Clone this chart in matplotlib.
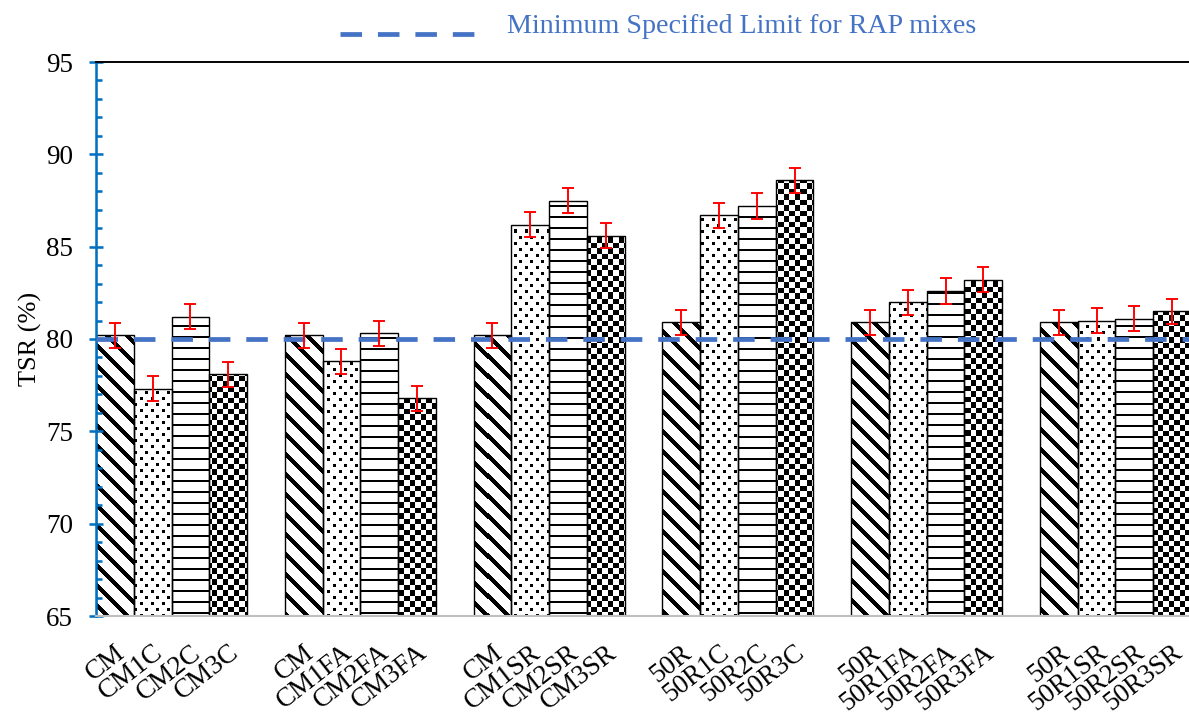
import numpy as np
import matplotlib
matplotlib.use("Agg")
import matplotlib.pyplot as plt
from matplotlib.lines import Line2D
from matplotlib.transforms import ScaledTranslation, blended_transform_factory

# ---------------- data ----------------
group_labels = [
    ["CM", "CM1C", "CM2C", "CM3C"],
    ["CM", "CM1FA", "CM2FA", "CM3FA"],
    ["CM", "CM1SR", "CM2SR", "CM3SR"],
    ["50R", "50R1C", "50R2C", "50R3C"],
    ["50R", "50R1FA", "50R2FA", "50R3FA"],
    ["50R", "50R1SR", "50R2SR", "50R3SR"],
]
control_tsr = [80.2, 80.2, 80.2, 80.9, 80.9, 80.9]
dose1_tsr = [77.3, 78.8, 86.2, 86.7, 82.0, 81.0]
dose2_tsr = [81.2, 80.3, 87.5, 87.2, 82.6, 81.1]
dose3_tsr = [78.1, 76.8, 85.6, 88.6, 83.2, 81.5]
control_err = [0.68, 0.68, 0.68, 0.68, 0.68, 0.68]
dose1_err = [0.68, 0.68, 0.68, 0.68, 0.68, 0.68]
dose2_err = [0.68, 0.68, 0.68, 0.68, 0.68, 0.68]
dose3_err = [0.68, 0.68, 0.68, 0.68, 0.68, 0.68]
limit_value = 80
limit_label = "Minimum Specified Limit for RAP mixes"
y_label = "TSR (%)"
y_min, y_max = 65, 95

series_vals = [control_tsr, dose1_tsr, dose2_tsr, dose3_tsr]
series_errs = [control_err, dose1_err, dose2_err, dose3_err]

# ---------------- figure ----------------
DPI = 126
W, H = 1189, 715
plt.rcParams["font.family"] = ["Liberation Serif", "DejaVu Serif"]
plt.rcParams["lines.scale_dashes"] = False
fig = plt.figure(figsize=(W / DPI, H / DPI), dpi=DPI)
ax_left, ax_right, ax_top, ax_bottom = 96, 1191, 62, 616
ax = fig.add_axes([ax_left / W, 1 - ax_bottom / H,
                   (ax_right - ax_left) / W, (ax_bottom - ax_top) / H])

n_groups = len(group_labels)
slots_per_group = 5
n_series = len(series_vals)
x_max = n_groups * slots_per_group - 1

# ---------------- fill patterns (pixel textures) ----------------
nr = ax_bottom - ax_top
nc = ax_right - ax_left
ii, jj = np.indices((nr, nc))
pat_diag = ((ii - jj) % 20 >= 6).astype(float)
r12, c11 = ii % 12, jj % 11
pat_dots = 1.0 - (((r12 < 3) & (c11 < 3)) | ((r12 >= 6) & (r12 < 9) & (c11 >= 5) & (c11 < 8))).astype(float)
pat_hlines = ((ii % 11) >= 2).astype(float)
pat_checker = 1.0 - ((np.floor(ii / 5.5) + np.floor(jj / 5.5)) % 2)
patterns = [pat_diag, pat_dots, pat_hlines, pat_checker]

bar_sets = []
for k in range(n_series):
    xs = [g * slots_per_group + k + 0.5 for g in range(n_groups)]
    bars = ax.bar(xs, series_vals[k], width=1.0, facecolor="none",
                  edgecolor="black", linewidth=0.8, zorder=2)
    for b in bars:
        im = ax.imshow(patterns[k], cmap="gray", vmin=0, vmax=1, origin="upper",
                       extent=(0, x_max, y_min, y_max), aspect="auto",
                       interpolation="nearest", zorder=1.5)
        im.set_clip_path(b)
    bar_sets.append(xs)

# limit line
line_kw = dict(color="#4472C4", linewidth=2.7, dashes=(12.3, 9.1),
               solid_capstyle="butt", dash_capstyle="butt")
ax.axhline(limit_value, zorder=4, **line_kw)

# error bars
for k in range(n_series):
    ax.errorbar(bar_sets[k], series_vals[k], yerr=series_errs[k], fmt="none",
                ecolor="#FF0000", elinewidth=1.1, capsize=3.4, capthick=1.1,
                zorder=5)

ax.set_xlim(0, x_max)
ax.set_ylim(y_min, y_max)

# axes styling
blue = "#0070C0"
ax.spines["right"].set_visible(False)
ax.spines["left"].set_color(blue)
ax.spines["left"].set_linewidth(1.45)
ax.spines["top"].set_color("black")
ax.spines["top"].set_linewidth(1.1)
ax.spines["bottom"].set_color("#BFBFBF")
ax.spines["bottom"].set_linewidth(1.2)

ax.set_yticks(np.arange(y_min, y_max + 1, 5))
ax.set_yticks(np.arange(y_min, y_max + 1, 1), minor=True)
ax.tick_params(axis="y", which="major", direction="inout", length=8.5,
               width=1.45, color=blue, labelsize=15.5, pad=9)
ax.tick_params(axis="y", which="minor", direction="in", length=3.4,
               width=1.45, color=blue)
ax.set_xticks([])
ax.set_ylabel(y_label, fontsize=15, labelpad=2)

# rotated category labels
trans = blended_transform_factory(ax.transData, ax.transAxes) + \
    ScaledTranslation(0, -24 / DPI, fig.dpi_scale_trans)
for g in range(n_groups):
    for k in range(n_series):
        ax.text(g * slots_per_group + k + 0.5, 0, group_labels[g][k],
                transform=trans, rotation=38, rotation_mode="anchor",
                ha="right", va="top", fontsize=15.5, clip_on=False)

# legend entry at top
fig.add_artist(Line2D([340 / W, 474 / W], [1 - 34 / H, 1 - 34 / H],
                      transform=fig.transFigure, **line_kw))
fig.text(507 / W, 1 - 33 / H, limit_label, ha="left", va="baseline",
         color="#4472C4", fontsize=16)

fig.savefig("out.png", dpi=DPI)
